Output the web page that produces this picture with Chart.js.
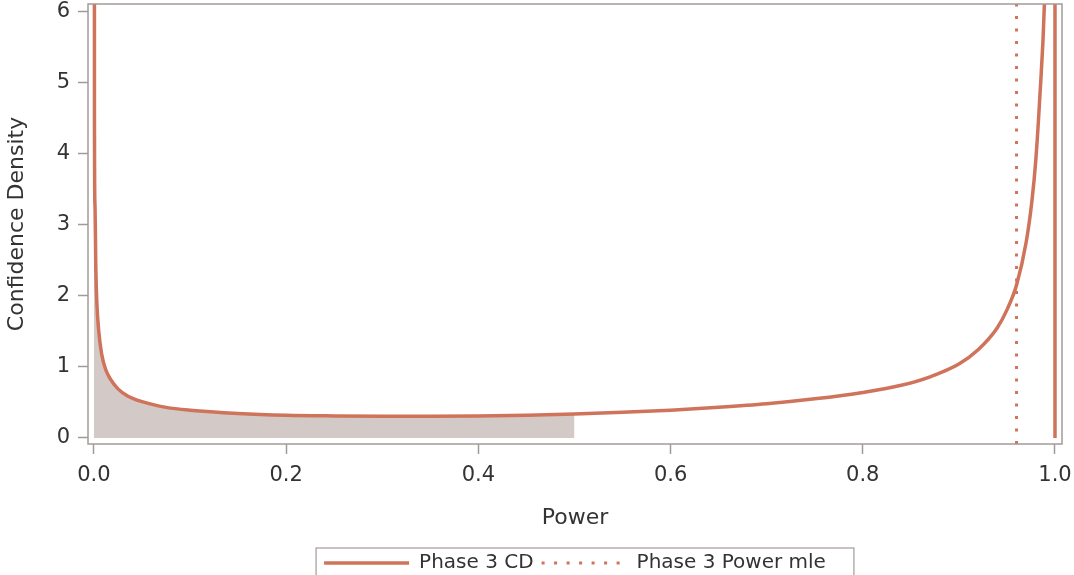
<!DOCTYPE html>
<html lang="en">
<head>
  <meta charset="UTF-8">
  <title>Phase 3 Confidence Density</title>
  <script src="https://cdn.jsdelivr.net/npm/chart.js"></script>
  <style>
    html, body {
      margin: 0;
      padding: 0;
      background: #ffffff;
    }

    .chart-box {
      position: relative;
      width: 1074px;
      height: 575px;
    }
  </style>
</head>
<body>
  <div class="chart-box">
    <canvas id="cdChart"></canvas>
  </div>

  <script>
    // power values and confidence density
    const powerX = [0, 0.0005, 0.001, 0.002, 0.003, 0.005, 0.008, 0.012, 0.017, 0.025, 0.035, 0.05, 0.075, 0.1,
      0.15, 0.2, 0.25, 0.3, 0.35, 0.4, 0.45, 0.5, 0.55, 0.6, 0.65, 0.7, 0.75, 0.8, 0.84, 0.87, 0.9, 0.92,
      0.94, 0.95, 0.96, 0.97, 0.976, 0.98, 0.984, 0.989, 0.993, 0.997];
    const densityY = [60, 4.6, 3.3, 2.35, 1.9, 1.5, 1.18, 0.97, 0.83, 0.69, 0.59, 0.51, 0.43, 0.39,
      0.345, 0.32, 0.31, 0.305, 0.305, 0.31, 0.32, 0.335, 0.36, 0.39, 0.43, 0.48, 0.55, 0.64, 0.74, 0.86, 1.04, 1.24,
      1.55, 1.8, 2.15, 2.75, 3.33, 3.9, 4.74, 6.1, 8.5, 15];
    const edgeX = [1.0, 1.0];       // the curve coming back down at power = 1
    const edgeY = [60, 0];
    const shadeUpTo = 0.5;          // shaded area under the curve
    const mlePower = 0.96;          // Phase 3 power mle

    const xTicks = [0, 0.2, 0.4, 0.6, 0.8, 1.0];
    const yTicks = [0, 1, 2, 3, 4, 5, 6];
    const xRange = [-0.0062, 1.0073];
    const yRange = [-0.085, 6.1];

    const lineColor = '#cf735b';
    const axisColor = '#a39a98';
    const textColor = '#333333';
    const fontFamily = '"DejaVu Sans", sans-serif';

    const curve = powerX.map((x, i) => ({ x: x, y: densityY[i] }));
    const shade = curve.filter(p => p.x <= shadeUpTo);
    const edge = edgeX.map((x, i) => ({ x: x, y: edgeY[i] }));
    const mleLine = [{ x: mlePower, y: yRange[0] }, { x: mlePower, y: yRange[1] }];

    // frame around the plot area and around the legend
    const framePlugin = {
      id: 'frames',
      afterLayout(chart) {
        chart.legend.top += 8;
        chart.legend.bottom += 8;
      },
      afterDraw(chart) {
        const ctx = chart.ctx;
        const a = chart.chartArea;
        ctx.save();
        ctx.strokeStyle = axisColor;
        ctx.lineWidth = 1.5;
        ctx.strokeRect(a.left, a.top, a.right - a.left, a.bottom - a.top);

        const boxes = chart.legend.legendHitBoxes;
        if (boxes && boxes.length) {
          const first = boxes[0];
          const last = boxes[boxes.length - 1];
          const mid = first.top + first.height / 2;
          const left = first.left - 8;
          const right = last.left + last.width + 28;
          ctx.lineWidth = 1.2;
          ctx.strokeRect(left, mid - 15, right - left, 28);
        }
        ctx.restore();
      }
    };

    const ctx = document.getElementById('cdChart').getContext('2d');
    const cdChart = new Chart(ctx, {
      type: 'line',
      data: {
        datasets: [
          {
            label: 'Phase 3 CD',
            data: curve,
            borderColor: lineColor,
            backgroundColor: lineColor,
            borderWidth: 3.5,
            pointRadius: 0,
            cubicInterpolationMode: 'monotone',
            fill: false,
            order: 1
          },
          {
            label: '',
            data: edge,
            borderColor: lineColor,
            borderWidth: 3.5,
            pointRadius: 0,
            tension: 0,
            fill: false,
            order: 1
          },
          {
            label: 'Phase 3 Power mle',
            data: mleLine,
            borderColor: lineColor,
            backgroundColor: lineColor,
            borderWidth: 3,
            borderDash: [3, 9.5],
            pointRadius: 0,
            tension: 0,
            fill: false,
            order: 2
          },
          {
            label: '',
            data: shade,
            borderWidth: 0,
            borderColor: 'rgba(0,0,0,0)',
            backgroundColor: '#d3cac8',
            pointRadius: 0,
            cubicInterpolationMode: 'monotone',
            fill: 'origin',
            order: 3
          }
        ]
      },
      options: {
        responsive: true,
        maintainAspectRatio: false,
        animation: false,
        layout: {
          padding: { top: 4, right: 12, left: 0, bottom: 0 }
        },
        plugins: {
          tooltip: { enabled: false },
          legend: {
            display: true,
            position: 'bottom',
            fullSize: false,
            labels: {
              usePointStyle: true,
              pointStyle: 'line',
              pointStyleWidth: 85,
              padding: 8,
              color: textColor,
              font: { family: fontFamily, size: 20 },
              generateLabels: chart => chart.data.datasets.map((ds, i) => ({
                text: ds.label,
                strokeStyle: ds.borderColor,
                fillStyle: ds.borderColor,
                lineWidth: ds.borderWidth,
                lineDash: ds.borderDash || [],
                pointStyle: 'line',
                fontColor: textColor,
                hidden: false,
                datasetIndex: i
              })).filter(item => item.text !== '')
            }
          }
        },
        scales: {
          x: {
            type: 'linear',
            min: xRange[0],
            max: xRange[1],
            afterBuildTicks: scale => { scale.ticks = xTicks.map(v => ({ value: v })); },
            afterFit: scale => {
              scale.height = 93;
              scale.paddingLeft = 0;
              scale.paddingRight = 0;
            },
            border: { display: false },
            grid: {
              display: true,
              drawOnChartArea: false,
              drawTicks: true,
              tickLength: 10,
              tickWidth: 1.5,
              tickColor: axisColor
            },
            ticks: {
              padding: 9,
              color: textColor,
              font: { family: fontFamily, size: 21 },
              maxRotation: 0,
              callback: v => v.toFixed(1)
            },
            title: {
              display: true,
              text: 'Power',
              color: textColor,
              padding: { top: 4, bottom: 6 },
              font: { family: fontFamily, size: 22 }
            }
          },
          y: {
            type: 'linear',
            min: yRange[0],
            max: yRange[1],
            afterBuildTicks: scale => { scale.ticks = yTicks.map(v => ({ value: v })); },
            afterFit: scale => {
              scale.width = 88;
              scale.paddingTop = 0;
              scale.paddingBottom = 0;
            },
            border: { display: false },
            grid: {
              display: true,
              drawOnChartArea: false,
              drawTicks: true,
              tickLength: 10,
              tickWidth: 1.5,
              tickColor: axisColor
            },
            ticks: {
              padding: 8,
              color: textColor,
              font: { family: fontFamily, size: 21 },
              callback: v => v.toFixed(0)
            },
            title: {
              display: true,
              text: 'Confidence Density',
              color: textColor,
              padding: { top: 4, bottom: 3 },
              font: { family: fontFamily, size: 22 }
            }
          }
        }
      },
      plugins: [framePlugin]
    });
  </script>
</body>
</html>
